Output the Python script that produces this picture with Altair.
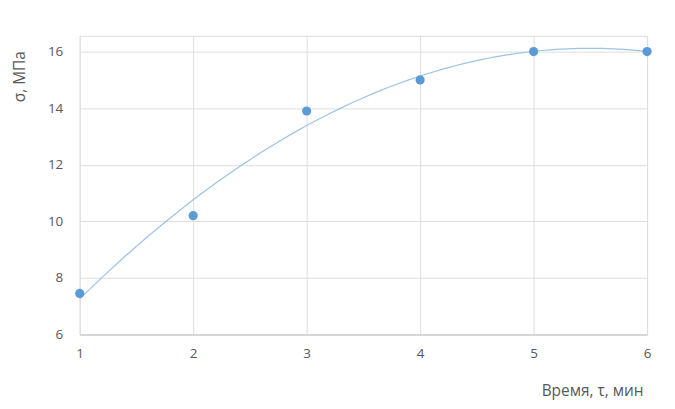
import altair as alt
import pandas as pd

times = [1, 2, 3, 4, 5, 6]
stress = [7.45, 10.2, 13.9, 15.0, 16.0, 16.0]
x_ticks = [1, 2, 3, 4, 5, 6]
y_ticks = [6, 8, 10, 12, 14, 16]

df = pd.DataFrame({"t": times, "s": stress})

FONT = "Open Sans"
GRAY = "#595959"

xenc = alt.X(
    "t:Q",
    scale=alt.Scale(domain=[1, 6], nice=False, zero=False),
    axis=alt.Axis(
        values=x_ticks, format="d", title="Время, τ, мин",
        grid=True, gridColor="#dedede", ticks=False,
        domainColor="#d0d0d0", domainWidth=1.5,
        labelFlush=False,
        labelPadding=12, labelFont=FONT, labelFontSize=13.5, labelColor=GRAY,
        titleFont=FONT, titleFontSize=15.5, titleColor=GRAY, titleFontWeight="normal",
        titleX=566, titleY=56, titleAlign="right", titleBaseline="middle",
    ),
)
yenc = alt.Y(
    "s:Q",
    scale=alt.Scale(domain=[6, 16.56], nice=False, zero=False),
    axis=alt.Axis(
        values=y_ticks, title="σ, МПа",
        grid=True, gridColor="#dedede", ticks=False, domain=False,
        labelPadding=17, labelFont=FONT, labelFontSize=13.5, labelColor=GRAY,
        titleFont=FONT, titleFontSize=15.5, titleColor=GRAY, titleFontWeight="normal",
        titleX=-60, titleY=15, titleAngle=-90, titleAlign="right", titleBaseline="middle",
    ),
)

base = alt.Chart(df)

trend = base.transform_regression(
    "t", "s", method="poly", order=2
).mark_line(color="#9dc3e6", strokeWidth=1.2).encode(x=xenc, y=yenc)

pts = base.mark_circle(size=85, color="#5b9bd5", opacity=1).encode(x=xenc, y=yenc)

chart = (
    alt.layer(trend, pts)
    .properties(
        width=570, height=300,
        autosize=alt.AutoSizeParams(type="none"),
        padding={"left": 72, "top": 27, "right": 20, "bottom": 70},
    )
    .configure_view(stroke=None)
    .configure(background="white")
)

chart.save("out.html", embed_options={"renderer": "svg", "actions": False})
